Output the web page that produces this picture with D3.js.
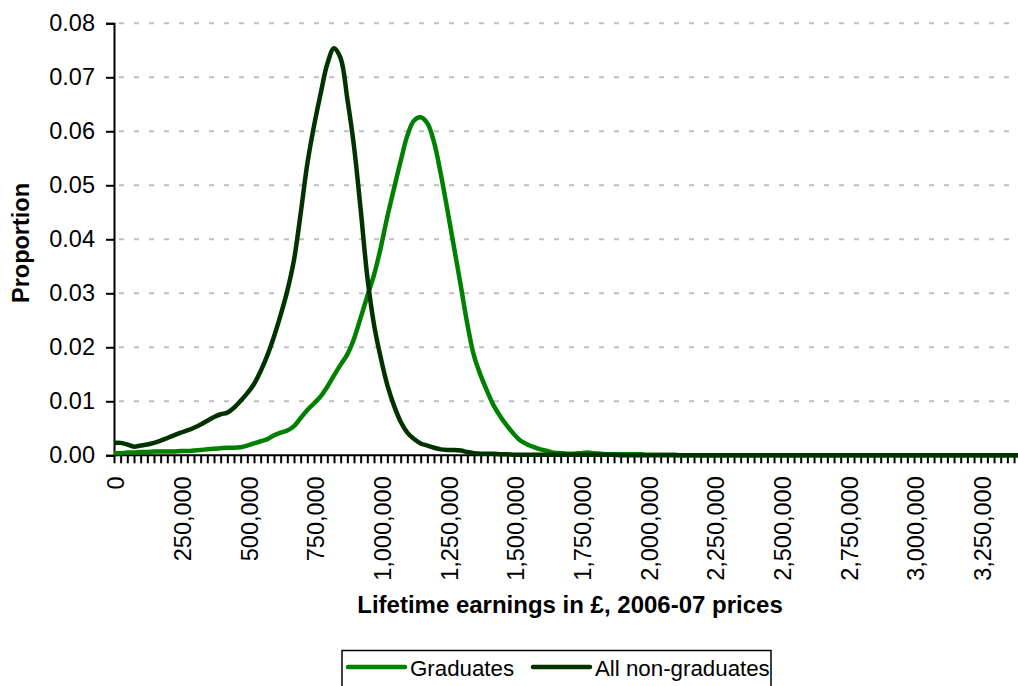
<!DOCTYPE html>
<html>
<head>
	<title>lifetime earnings distribution</title>
	<script src="https://d3js.org/d3.v7.min.js"></script>
	<style>
		body { margin: 0; background: #fff; }
		text { font-family: "Liberation Sans", Arial, sans-serif; }
	</style>
</head>
<body>
	<script type="text/javascript">

		// categories: lifetime earnings bands, 25,000 apart
		var categories = d3.range(0, 3400001, 25000);
		var labelledTicks = [0, 250000, 500000, 750000, 1000000, 1250000, 1500000, 1750000,
			2000000, 2250000, 2500000, 2750000, 3000000, 3250000];
		var yTicks = [0, 0.01, 0.02, 0.03, 0.04, 0.05, 0.06, 0.07, 0.08];

		var graduates = [
			0.0004, 0.0004, 0.0005, 0.0005, 0.0006, 0.0006, 0.0007, 0.0007, 0.0007, 0.0007,
			0.0008, 0.0008, 0.0009, 0.0010, 0.0011, 0.0012, 0.0013, 0.0014, 0.0014, 0.0015,
			0.0018, 0.0022, 0.0026, 0.0030, 0.0037, 0.0042, 0.0046, 0.0054, 0.0069, 0.0084,
			0.0096, 0.0109, 0.0127, 0.0148, 0.0168, 0.0187, 0.0216, 0.0255, 0.0295, 0.0334,
			0.0384, 0.0442, 0.0494, 0.0545, 0.0592, 0.0620, 0.0626, 0.0615, 0.0580, 0.0522,
			0.0455, 0.0385, 0.0315, 0.0243, 0.0184, 0.0148, 0.0118, 0.0091, 0.0071, 0.0054,
			0.0039, 0.0027, 0.0020, 0.0015, 0.0011, 0.0008, 0.0005, 0.0004, 0.0003, 0.0003,
			0.0004, 0.0005, 0.0004, 0.0003, 0.0002, 0.0002, 0.0002, 0.0002, 0.0002, 0.0002,
			0.0001, 0.0001, 0.0001, 0.0001, 0.0001, 0, 0, 0, 0, 0,
			0, 0, 0, 0, 0, 0, 0, 0, 0, 0,
			0, 0, 0, 0, 0, 0, 0, 0, 0, 0,
			0, 0, 0, 0, 0, 0, 0, 0, 0, 0,
			0, 0, 0, 0, 0, 0, 0, 0, 0, 0,
			0, 0, 0, 0, 0, 0, 0
		];

		var nonGraduates = [
			0.0023, 0.0023, 0.0020, 0.0016, 0.0018, 0.0020, 0.0023, 0.0027, 0.0032, 0.0037,
			0.0042, 0.0046, 0.0051, 0.0057, 0.0064, 0.0071, 0.0076, 0.0079, 0.0088, 0.0101,
			0.0115, 0.0132, 0.0156, 0.0185, 0.0220, 0.0260, 0.0305, 0.0362, 0.0448, 0.0540,
			0.0610, 0.0670, 0.0725, 0.0754, 0.0735, 0.0660, 0.0572, 0.0455, 0.0330, 0.0242,
			0.0181, 0.0130, 0.0092, 0.0062, 0.0042, 0.0030, 0.0022, 0.0018, 0.0014, 0.0011,
			0.0010, 0.0010, 0.0009, 0.0006, 0.0004, 0.0003, 0.0003, 0.0003, 0.0002, 0.0002,
			0.0001, 0.0001, 0.0001, 0.0001, 0.0001, 0.0001, 0.0001, 0.0001, 0.0001, 0.0001,
			0.0001, 0.0001, 0.0001, 0.0001, 0.0001, 0.0001, 0, 0, 0, 0,
			0, 0, 0, 0, 0, 0, 0, 0, 0, 0,
			0, 0, 0, 0, 0, 0, 0, 0, 0, 0,
			0, 0, 0, 0, 0, 0, 0, 0, 0, 0,
			0, 0, 0, 0, 0, 0, 0, 0, 0, 0,
			0, 0, 0, 0, 0, 0, 0, 0, 0, 0,
			0, 0, 0, 0, 0, 0, 0
		];

		var seriesNames = ["Graduates", "All non-graduates"];
		var seriesColors = ["#008000", "#003300"];

		var width = 1018;
		var height = 686;
		var plotLeft = 114;
		var step = 6.667;
		var plotTop = 23.3;
		var plotBottom = 455.3;
		var fs = 23.5;

		var svg = d3.select("body").append("svg")
			.attr("width", width)
			.attr("height", height);

		var xScale = d3.scalePoint()
			.domain(categories)
			.range([plotLeft, plotLeft + (categories.length - 1) * step]);

		var yScale = d3.scaleLinear()
			.domain([0, 0.08])
			.range([plotBottom, plotTop]);

		// gridlines
		svg.append("g").selectAll("line")
			.data(yTicks.filter(function (d) { return d > 0; }))
			.enter()
				.append("line")
				.attr("x1", plotLeft + 5)
				.attr("x2", width)
				.attr("y1", function (d) { return yScale(d); })
				.attr("y2", function (d) { return yScale(d); })
				.attr("stroke", "#c0c0c0")
				.attr("stroke-width", 2)
				.attr("stroke-dasharray", "5,10");

		// y axis
		var yAxis = d3.axisLeft(yScale)
			.tickValues(yTicks)
			.tickFormat(d3.format(".2f"))
			.tickSize(8)
			.tickPadding(11);

		var gy = svg.append("g")
			.attr("transform", "translate(" + plotLeft + ",0)")
			.call(yAxis);
		gy.select(".domain").attr("stroke", "#000").attr("stroke-width", 2);
		gy.selectAll(".tick line").attr("stroke", "#000").attr("stroke-width", 2);
		gy.selectAll(".tick text")
			.attr("font-size", fs)
			.attr("font-family", "Liberation Sans, Arial, sans-serif")
			.attr("fill", "#000");

		// x axis
		var xAxis = d3.axisBottom(xScale)
			.tickSize(8)
			.tickFormat(function (d) { return labelledTicks.indexOf(d) >= 0 ? d3.format(",")(d) : ""; });

		var gx = svg.append("g")
			.attr("transform", "translate(0," + plotBottom + ")")
			.call(xAxis);
		gx.select(".domain").attr("stroke", "#000").attr("stroke-width", 2)
			.attr("d", "M" + plotLeft + ",0H" + width);
		gx.selectAll(".tick line").attr("stroke", "#000").attr("stroke-width", 2);
		gx.selectAll(".tick text")
			.attr("font-size", fs)
			.attr("font-family", "Liberation Sans, Arial, sans-serif")
			.attr("fill", "#000")
			.attr("transform", "rotate(-90)")
			.attr("text-anchor", "end")
			.attr("x", -21)
			.attr("y", 1.5)
			.attr("dy", "0.35em");

		// lines
		var line = d3.line()
			.x(function (d, i) { return xScale(categories[i]); })
			.y(function (d) { return yScale(d); })
			.curve(d3.curveCatmullRom);

		[graduates, nonGraduates].forEach(function (s, k) {
			svg.append("path")
				.datum(s)
				.attr("d", line)
				.attr("fill", "none")
				.attr("stroke", seriesColors[k])
				.attr("stroke-width", 4.5)
				.attr("stroke-linejoin", "round");
		});

		// axis titles
		svg.append("text")
			.attr("x", 570)
			.attr("y", 613)
			.attr("text-anchor", "middle")
			.attr("font-size", 24)
			.attr("font-weight", "bold")
			.text("Lifetime earnings in £, 2006-07 prices");

		svg.append("text")
			.attr("transform", "translate(29,243) rotate(-90)")
			.attr("text-anchor", "middle")
			.attr("font-size", fs)
			.attr("font-weight", "bold")
			.text("Proportion");

		// legend
		var legend = svg.append("g");
		legend.append("rect")
			.attr("x", 342)
			.attr("y", 650.5)
			.attr("width", 429)
			.attr("height", 50)
			.attr("fill", "#fff")
			.attr("stroke", "#000")
			.attr("stroke-width", 1.5);

		var legendX = [348, 533];
		seriesNames.forEach(function (name, k) {
			legend.append("line")
				.attr("x1", legendX[k])
				.attr("x2", legendX[k] + 57)
				.attr("y1", 667)
				.attr("y2", 667)
				.attr("stroke", seriesColors[k])
				.attr("stroke-width", 4.5)
				.attr("stroke-linecap", "round");
			legend.append("text")
				.attr("x", legendX[k] + 62)
				.attr("y", 676)
				.attr("font-size", 22.3)
				.text(name);
		});

	</script>
</body>
</html>
